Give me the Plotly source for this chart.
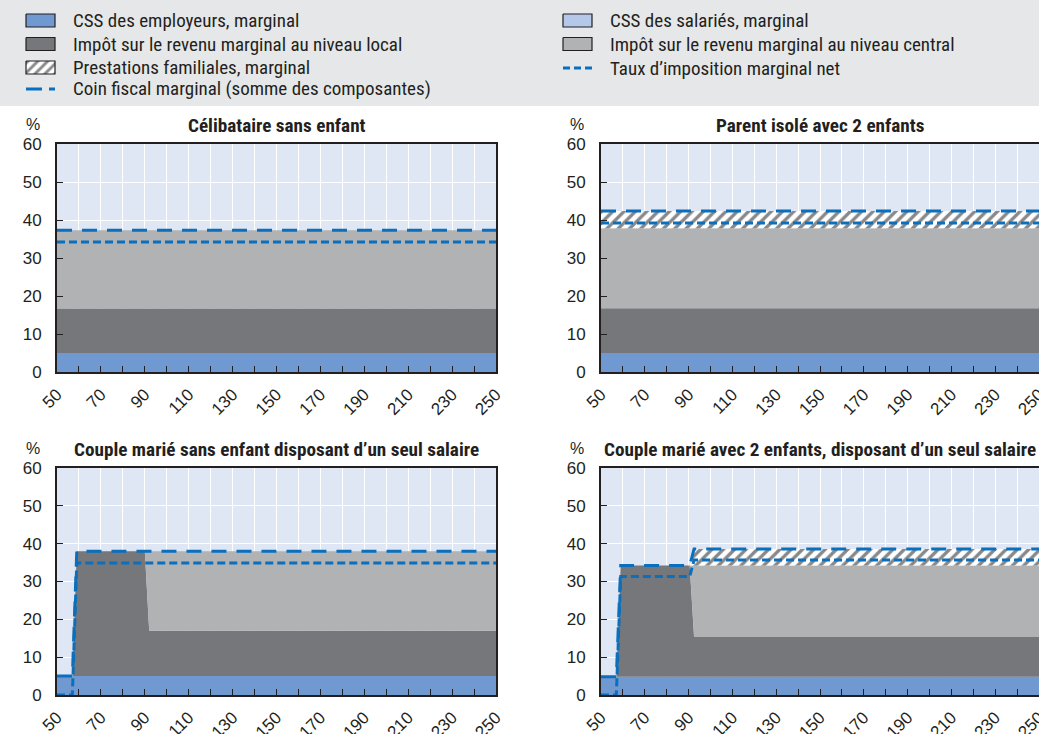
import plotly.graph_objects as go

W, H = 1039, 734

# ---------------- data ----------------
# Panel 1: Célibataire sans enfant
x_single = [50, 250]
emp_single = [5.0, 5.0]
ees_single = [0.0, 0.0]
local_single = [11.7, 11.7]
central_single = [20.6, 20.6]
fam_single = [0.0, 0.0]
wedge_single = [37.3, 37.3]
net_single = [34.2, 34.2]

# Panel 2: Parent isolé avec 2 enfants
x_lone = [50, 250]
emp_lone = [5.0, 5.0]
ees_lone = [0.0, 0.0]
local_lone = [11.8, 11.8]
central_lone = [21.0, 21.0]
fam_lone = [4.6, 4.6]
wedge_lone = [42.4, 42.4]
net_lone = [39.2, 39.2]

# Panel 3: Couple marié sans enfant disposant d'un seul salaire
x_couple = [50, 57, 59, 90, 92, 250]
emp_couple = [5.0, 5.0, 5.0, 5.0, 5.0, 5.0]
ees_couple = [0.0, 0.0, 0.0, 0.0, 0.0, 0.0]
local_couple = [0.0, 0.0, 33.0, 33.0, 12.0, 12.0]
central_couple = [0.0, 0.0, 0.0, 0.0, 21.0, 21.0]
fam_couple = [0.0, 0.0, 0.0, 0.0, 0.0, 0.0]
wedge_couple = [5.0, 5.0, 38.0, 38.0, 38.0, 38.0]
net_couple = [0.0, 0.0, 34.9, 34.9, 34.9, 34.9]

# Panel 4: Couple marié avec 2 enfants, disposant d'un seul salaire
x_couple2 = [50, 57, 59, 90.5, 92.5, 250]
emp_couple2 = [4.8, 4.8, 4.8, 4.8, 4.8, 4.8]
ees_couple2 = [0.0, 0.0, 0.0, 0.0, 0.0, 0.0]
local_couple2 = [0.0, 0.0, 29.4, 29.4, 10.5, 10.5]
central_couple2 = [0.0, 0.0, 0.0, 0.0, 18.9, 18.9]
fam_couple2 = [0.0, 0.0, 0.0, 0.0, 4.4, 4.4]
wedge_couple2 = [4.8, 4.8, 34.2, 34.2, 38.6, 38.6]
net_couple2 = [0.0, 0.0, 31.3, 31.3, 35.7, 35.7]

titles = [
    "Célibataire sans enfant",
    "Parent isolé avec 2 enfants",
    "Couple marié sans enfant disposant d’un seul salaire",
    "Couple marié avec 2 enfants, disposant d’un seul salaire",
]
legend_labels = {
    "emp": "CSS des employeurs, marginal",
    "ees": "CSS des salariés, marginal",
    "local": "Impôt sur le revenu marginal au niveau local",
    "central": "Impôt sur le revenu marginal au niveau central",
    "fam": "Prestations familiales, marginal",
    "net": "Taux d’imposition marginal net",
    "wedge": "Coin fiscal marginal (somme des composantes)",
}
x_ticks = [50, 70, 90, 110, 130, 150, 170, 190, 210, 230, 250]

# ---------------- styles ----------------
C_EMP = "#7199d1"
C_EES = "#b4c8e9"
C_LOCAL = "#76777b"
C_CENTRAL = "#b1b2b4"
C_LINE = "#0a6fbd"
C_BG = "#dfe6f4"
C_LEG = "#e6e7e8"
C_TXT = "#231f20"
NARROW = "Roboto Condensed, Archivo Narrow, sans-serif"
REG = "Liberation Sans, Arial, sans-serif"
HATCH = dict(shape="/", fgcolor="#111111", bgcolor="white", size=8, solidity=0.42)
DASH_LONG = "15px,10px"
DASH_SHORT = "8px,4px"

panels = [
    (x_single, emp_single, ees_single, local_single, central_single, fam_single, wedge_single, net_single),
    (x_lone, emp_lone, ees_lone, local_lone, central_lone, fam_lone, wedge_lone, net_lone),
    (x_couple, emp_couple, ees_couple, local_couple, central_couple, fam_couple, wedge_couple, net_couple),
    (x_couple2, emp_couple2, ees_couple2, local_couple2, central_couple2, fam_couple2, wedge_couple2, net_couple2),
]

# pixel boxes of the four plot areas (left, top, right, bottom)
boxes = [(57, 144, 496, 372), (601, 144, 1040, 372), (57, 468, 496, 695), (601, 468, 1040, 695)]

fig = go.Figure()
layout = dict(
    width=W, height=H, margin=dict(l=0, r=0, t=0, b=0, autoexpand=False),
    paper_bgcolor="white", plot_bgcolor="rgba(0,0,0,0)",
    showlegend=False, shapes=[], annotations=[],
    font=dict(family=REG, color=C_TXT),
)

# legend band
layout["shapes"].append(dict(type="rect", xref="paper", yref="paper", x0=0, x1=1,
                             y0=1 - 106 / H, y1=1, fillcolor=C_LEG, line=dict(width=0), layer="below"))

for i, (xs, emp, ees, loc, cen, fam, wed, net) in enumerate(panels):
    n = i + 1
    xa = "x" if n == 1 else f"x{n}"
    ya = "y" if n == 1 else f"y{n}"
    sg = f"s{n}"
    common = dict(x=xs, xaxis=xa, yaxis=ya, mode="lines", stackgroup=sg, line=dict(width=0), hoverinfo="skip")
    fig.add_trace(go.Scatter(y=emp, fillcolor=C_EMP, name=legend_labels["emp"], **common))
    fig.add_trace(go.Scatter(y=ees, fillcolor=C_EES, name=legend_labels["ees"], **common))
    fig.add_trace(go.Scatter(y=loc, fillcolor=C_LOCAL, name=legend_labels["local"], **common))
    fig.add_trace(go.Scatter(y=cen, fillcolor=C_CENTRAL, name=legend_labels["central"], **common))
    fig.add_trace(go.Scatter(y=fam, fillcolor="white", fillpattern=HATCH, name=legend_labels["fam"], **common))
    fig.add_trace(go.Scatter(x=xs, y=net, xaxis=xa, yaxis=ya, mode="lines", name=legend_labels["net"],
                             line=dict(color=C_LINE, width=3, dash=DASH_SHORT)))
    fig.add_trace(go.Scatter(x=xs, y=wed, xaxis=xa, yaxis=ya, mode="lines", name=legend_labels["wedge"],
                             line=dict(color=C_LINE, width=3, dash=DASH_LONG)))

    l, t, r, b = boxes[i]
    xkey = "xaxis" if n == 1 else f"xaxis{n}"
    ykey = "yaxis" if n == 1 else f"yaxis{n}"
    layout[xkey] = dict(
        domain=[l / W, min(r / W, 1.0)], anchor=ya, range=[50, 250], automargin=False,
        tickmode="array", tickvals=x_ticks, ticktext=[str(v) for v in x_ticks],
        tickangle=-45, ticks="inside", ticklen=6, tickwidth=1, tickcolor=C_TXT,
        tickfont=dict(family=REG, size=17, color=C_TXT), ticklabelstandoff=4,
        ticklabeloverflow="allow",
        showgrid=True, gridcolor="white", gridwidth=1.3,
        minor=dict(dtick=10, tick0=50, ticks="inside", ticklen=6, tickcolor=C_TXT,
                   showgrid=True, gridcolor="white", gridwidth=1.3),
        showline=True, mirror=True, linecolor=C_TXT, linewidth=2,
        zeroline=False, fixedrange=True,
    )
    layout[ykey] = dict(
        domain=[1 - b / H, 1 - t / H], anchor=xa, range=[0, 60], dtick=10, tick0=0, automargin=False,
        ticks="inside", ticklen=6, tickwidth=1, tickcolor=C_TXT,
        tickfont=dict(family=REG, size=17, color=C_TXT), ticklabelstandoff=10,
        ticklabeloverflow="allow",
        showgrid=True, gridcolor="white", gridwidth=1.3,
        showline=True, mirror=True, linecolor=C_TXT, linewidth=2,
        zeroline=False, fixedrange=True,
    )
    layout["shapes"].append(dict(type="rect", xref=f"{xa} domain", yref=f"{ya} domain",
                                 x0=0, x1=1, y0=0, y1=1, fillcolor=C_BG, line=dict(width=0), layer="below"))
    # title
    layout["annotations"].append(dict(
        text=f"<b>{titles[i]}</b>", xref="paper", yref="paper",
        x=((l + min(r, W)) / 2) / W, y=1 - (t - 19) / H, xanchor="center", yanchor="middle",
        showarrow=False, font=dict(family=NARROW, size=19.2, color=C_TXT)))
    layout["annotations"].append(dict(
        text="%", xref="paper", yref="paper", x=(l - 24) / W, y=1 - (t - 20) / H,
        xanchor="center", yanchor="middle", showarrow=False,
        font=dict(family=REG, size=16, color=C_TXT)))

# ---------------- legend (drawn on a hidden pixel-space axis over the band) ----------------
LEG_H = 106
layout["xaxis5"] = dict(domain=[0, 1], range=[0, W], visible=False, fixedrange=True, anchor="y5", automargin=False)
layout["yaxis5"] = dict(domain=[1 - LEG_H / H, 1], range=[LEG_H, 0], visible=False, fixedrange=True,
                        anchor="x5", automargin=False)

legend_items = [
    # (key, kind, column x, row y)
    ("emp", "box", 26, 20.5),
    ("local", "box", 26, 44),
    ("fam", "hatch", 26, 67.5),
    ("wedge", "long", 26, 89),
    ("ees", "box", 563, 20.5),
    ("central", "box", 563, 44),
    ("net", "short", 563, 68),
]
fills = {"emp": C_EMP, "ees": C_EES, "local": C_LOCAL, "central": C_CENTRAL}
for key, kind, x0, yc in legend_items:
    x1 = x0 + 29
    if kind in ("box", "hatch"):
        y0, y1 = yc - 6.5, yc + 6.5
        kw = dict(fillcolor=fills.get(key, "white"))
        if kind == "hatch":
            kw["fillpattern"] = dict(HATCH, size=7)
        fig.add_trace(go.Scatter(x=[x0, x1, x1, x0, x0], y=[y0, y0, y1, y1, y0], xaxis="x5", yaxis="y5",
                                 mode="lines", fill="toself", line=dict(color=C_TXT, width=1.2),
                                 hoverinfo="skip", **kw))
    else:
        dash = "16px,7px" if kind == "long" else "7px,4px"
        fig.add_trace(go.Scatter(x=[x0, x1], y=[yc, yc], xaxis="x5", yaxis="y5", mode="lines",
                                 line=dict(color=C_LINE, width=3, dash=dash), hoverinfo="skip"))
    layout["annotations"].append(dict(
        text=legend_labels[key], xref="paper", yref="paper", x=(x0 + 45) / W, y=1 - yc / H,
        xanchor="left", yanchor="middle", showarrow=False,
        font=dict(family=NARROW, size=19, color=C_TXT)))

fig.update_layout(**layout)
fig.write_html("out.html", config={"displayModeBar": False},
               post_script="document.body.style.margin='0px';")
